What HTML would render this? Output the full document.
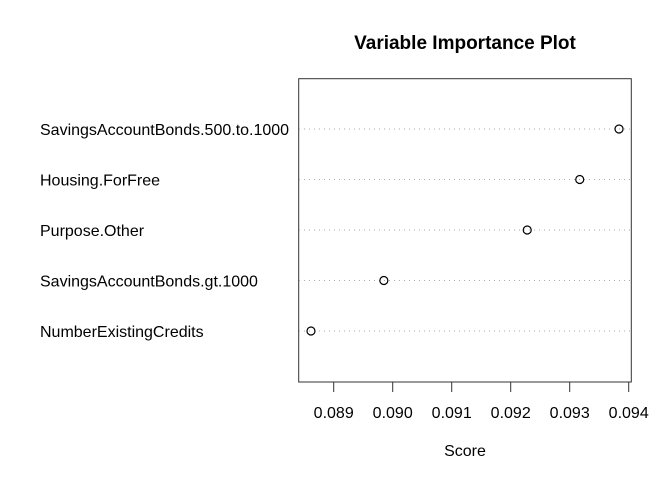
<!DOCTYPE html>
<html><head><meta charset="utf-8"><style>body{margin:0;background:#fff}svg text{font-family:"Liberation Sans",Arial,sans-serif}</style></head>
<body>
<svg id="c" width="672" height="480" xmlns="http://www.w3.org/2000/svg">
<rect width="672" height="480" fill="#fff"/>
<text x="465" y="49" text-anchor="middle" font-size="19" font-weight="bold">Variable Importance Plot</text>
<rect x="298.7" y="78.7" width="332.6" height="303.3" fill="none" stroke="#333" stroke-width="1"/>
<text x="465" y="456" text-anchor="middle" font-size="16">Score</text>
<g id="g"></g>
</svg>
<script>
const categories=["SavingsAccountBonds.500.to.1000","Housing.ForFree","Purpose.Other","SavingsAccountBonds.gt.1000","NumberExistingCredits"];
const scores=[0.093836,0.09317,0.09228,0.08985,0.088615];
const ticks=[0.089,0.090,0.091,0.092,0.093,0.094];
const tickLabels=["0.089","0.090","0.091","0.092","0.093","0.094"];
const ns="http://www.w3.org/2000/svg",g=document.getElementById('g');
const xs=v=>333.7+(v-0.089)*59000;
const ys=i=>129+i*50.5;
function mk(t,a){const e=document.createElementNS(ns,t);for(const k in a)e.setAttribute(k,a[k]);g.appendChild(e);return e;}
ticks.forEach((t,i)=>{
 const l=mk('line',{x1:xs(t),x2:xs(t),y1:382,y2:392,stroke:'#333'});
 
 
 const tx=mk('text',{x:xs(t),y:418,'text-anchor':'middle','font-size':16});
 tx.textContent=tickLabels[i];
 
 
});
categories.forEach((c,i)=>{
 const y=ys(i);
 const l=mk('line',{x1:299,x2:631,y1:y,y2:y,stroke:'#aaa','stroke-dasharray':'1 4'});
 
 
 const tx=mk('text',{x:40,y:y+6,'font-size':16});
 tx.textContent=c;
 
 
 const p=mk('circle',{cx:xs(scores[i]),cy:y,r:4,fill:'none',stroke:'#000','stroke-width':1.2});
 
 
});
</script>
</body></html>
